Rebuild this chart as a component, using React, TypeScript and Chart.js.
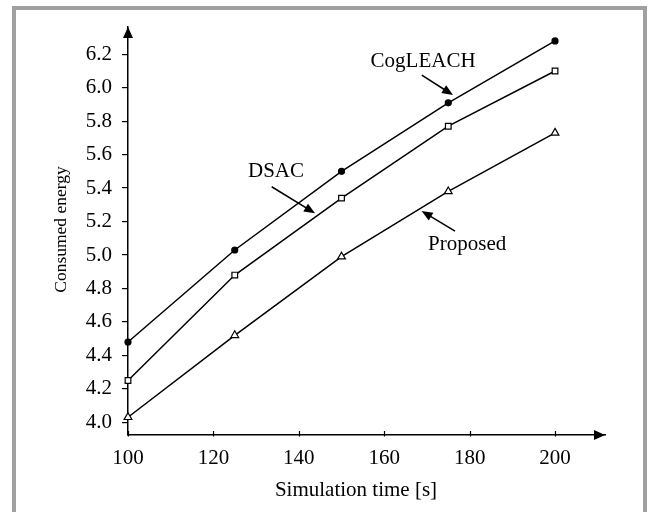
import React, { useEffect, useRef } from "react";
import { Chart, registerables } from "chart.js";

Chart.register(...registerables);

// ---- data ----
const simTimes = [100, 125, 150, 175, 200];
const cogLeach = [4.48, 5.03, 5.5, 5.91, 6.28];
const dsac = [4.25, 4.88, 5.34, 5.77, 6.1];
const proposed = [4.03, 4.52, 4.99, 5.38, 5.73];
const xTicks = [100, 120, 140, 160, 180, 200];
const yTicks = [4.0, 4.2, 4.4, 4.6, 4.8, 5.0, 5.2, 5.4, 5.6, 5.8, 6.0, 6.2];
const xTitle = "Simulation time [s]";
const yTitle = "Consumed energy";
const seriesNames = ["CogLEACH", "DSAC", "Proposed"];

// annotation anchors (data coordinates)
const annotations = [
  { text: "CogLEACH", tx: 156.8, ty: 6.124, fx: 168.8, fy: 6.076, px: 176.1, py: 5.956 },
  { text: "DSAC", tx: 128.1, ty: 5.466, fx: 133.65, fy: 5.408, px: 143.8, py: 5.249 },
  { text: "Proposed", tx: 170.26, ty: 5.03, fx: 176.58, fy: 5.143, px: 168.76, py: 5.263 },
];

const SERIF = "'Liberation Serif', 'Times New Roman', serif";

function arrowHead(ctx: CanvasRenderingContext2D, x1: number, y1: number, x2: number, y2: number, len: number, half: number) {
  const a = Math.atan2(y2 - y1, x2 - x1);
  const bx = x2 - Math.cos(a) * len;
  const by = y2 - Math.sin(a) * len;
  ctx.beginPath();
  ctx.moveTo(x2, y2);
  ctx.lineTo(bx + Math.sin(a) * half, by - Math.cos(a) * half);
  ctx.lineTo(bx - Math.sin(a) * half, by + Math.cos(a) * half);
  ctx.closePath();
  ctx.fill();
}

const decorPlugin = {
  id: "decor",
  beforeDraw(chart: any) {
    const ctx = chart.ctx as CanvasRenderingContext2D;
    ctx.save();
    ctx.fillStyle = "#ffffff";
    ctx.fillRect(0, 0, chart.width, chart.height);
    ctx.strokeStyle = "#a0a0a0";
    ctx.lineWidth = 4;
    ctx.strokeRect(14, 8, 631, 530);
    ctx.restore();
  },
  afterDraw(chart: any) {
    const ctx = chart.ctx as CanvasRenderingContext2D;
    const xs = chart.scales.x;
    const ys = chart.scales.y;
    const area = chart.chartArea;
    ctx.save();
    ctx.fillStyle = "#000";
    ctx.strokeStyle = "#000";
    // axis arrowheads
    arrowHead(ctx, area.left, area.bottom, area.left, area.top, 11, 5);
    arrowHead(ctx, area.left, area.bottom, area.right, area.bottom, 11, 5);
    // x tick marks (crossing the axis, mostly upward)
    ctx.lineWidth = 1.2;
    xTicks.forEach((v) => {
      const x = Math.round(xs.getPixelForValue(v)) + 0.5;
      ctx.beginPath();
      ctx.moveTo(x, area.bottom - 4);
      ctx.lineTo(x, area.bottom + 1.5);
      ctx.stroke();
    });
    // annotations
    ctx.font = `21px ${SERIF}`;
    ctx.textAlign = "left";
    ctx.textBaseline = "alphabetic";
    ctx.lineWidth = 1.5;
    annotations.forEach((a) => {
      ctx.fillText(a.text, xs.getPixelForValue(a.tx), ys.getPixelForValue(a.ty));
      const x1 = xs.getPixelForValue(a.fx);
      const y1 = ys.getPixelForValue(a.fy);
      const x2 = xs.getPixelForValue(a.px);
      const y2 = ys.getPixelForValue(a.py);
      const ang = Math.atan2(y2 - y1, x2 - x1);
      ctx.beginPath();
      ctx.moveTo(x1, y1);
      ctx.lineTo(x2 - Math.cos(ang) * 8, y2 - Math.sin(ang) * 8);
      ctx.stroke();
      arrowHead(ctx, x1, y1, x2, y2, 11, 4.5);
    });
    // axis titles
    ctx.textAlign = "center";
    ctx.font = `21px ${SERIF}`;
    ctx.fillText(xTitle, 356, 496);
    ctx.translate(61.5, 229.5);
    ctx.rotate(-Math.PI / 2);
    ctx.font = `17.5px ${SERIF}`;
    ctx.textBaseline = "middle";
    ctx.fillText(yTitle, 0, 0);
    ctx.restore();
  },
};

export default function App() {
  const canvasRef = useRef<HTMLCanvasElement | null>(null);

  useEffect(() => {
    if (!canvasRef.current) return;
    const mk = (vals: number[]) => simTimes.map((t, i) => ({ x: t, y: vals[i] }));
    const base = {
      borderColor: "#000",
      borderWidth: 1.5,
      pointBorderColor: "#000",
      pointBorderWidth: 1.2,
      fill: false,
      tension: 0,
      clip: false as any,
    };
    const chart = new Chart(canvasRef.current, {
      type: "line",
      data: {
        datasets: [
          { ...base, label: seriesNames[0], data: mk(cogLeach), pointStyle: "circle", pointRadius: 3, pointBackgroundColor: "#000" },
          { ...base, label: seriesNames[1], data: mk(dsac), pointStyle: "rect", pointRadius: 4, pointBackgroundColor: "#fff" },
          { ...base, label: seriesNames[2], data: mk(proposed), pointStyle: "triangle", pointRadius: 4.5, pointBackgroundColor: "#fff" },
        ],
      },
      options: {
        responsive: false,
        animation: false,
        events: [],
        layout: { padding: { top: 27, right: 43, left: 0, bottom: 0 } },
        plugins: { legend: { display: false }, tooltip: { enabled: false } },
        scales: {
          x: {
            type: "linear",
            min: 100,
            max: 211.7,
            afterFit: (s: any) => { s.height = 77; },
            afterBuildTicks: (s: any) => { s.ticks = xTicks.map((v) => ({ value: v })); },
            grid: { display: false, drawTicks: false },
            border: { display: true, color: "#000", width: 1.5 },
            ticks: { color: "#000", font: { family: SERIF, size: 21 }, padding: 11, maxRotation: 0, autoSkip: false, callback: (v: any) => String(v) },
          },
          y: {
            type: "linear",
            min: 3.924,
            max: 6.363,
            afterFit: (s: any) => { s.width = 128; },
            afterBuildTicks: (s: any) => { s.ticks = yTicks.map((v) => ({ value: v })); },
            grid: { display: true, drawOnChartArea: false, drawTicks: true, tickLength: 6, color: "#000", lineWidth: 1.2 },
            border: { display: true, color: "#000", width: 1.5 },
            ticks: { color: "#000", font: { family: SERIF, size: 21 }, padding: 10, autoSkip: false, callback: (v: any) => Number(v).toFixed(1) },
          },
        },
      },
      plugins: [decorPlugin],
    } as any);
    return () => chart.destroy();
  }, []);

  return (
    <div style={{ position: "absolute", left: 0, top: 0, width: 648, height: 512, background: "#fff" }}>
      <canvas ref={canvasRef} width={648} height={512} style={{ display: "block", width: 648, height: 512 }} />
    </div>
  );
}
